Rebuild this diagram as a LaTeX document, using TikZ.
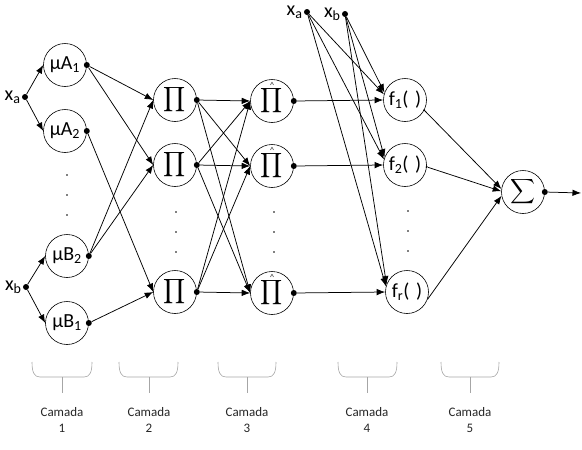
\documentclass[tikz,border=0pt]{standalone}
\usepackage{fontspec}
\setmainfont{Carlito}
\usepackage{amsmath}
\usetikzlibrary{arrows.meta,positioning}
\newcommand{\lblfont}{\fontsize{20}{22}\selectfont}
\newcommand{\capfont}{\fontsize{13}{16.5}\selectfont}
\newcommand{\bigsym}{\fontsize{16}{19}\selectfont}
\tikzset{
  neuron/.style={circle, draw, line width=0.6pt, minimum size=43pt, inner sep=0pt, font=\lblfont},
  conn/.style={line width=0.75pt, -{Latex[length=8.5pt,width=6.5pt]}},
  bigdot/.style={circle, fill, inner sep=0pt, minimum size=6pt},
  tinydot/.style={circle, fill, inner sep=0pt, minimum size=2.2pt},
  vdot/.style={circle, fill, inner sep=0pt, minimum size=1.8pt},
  inlabel/.style={font=\lblfont, inner sep=1pt},
  hatmark/.style={font=\fontsize{9}{9}\selectfont, inner sep=0pt, text=black!80},
  bracket/.style={draw=black!35, line width=0.6pt},
  caption/.style={font=\capfont, align=center, text=black!85}
}
\begin{document}
\begin{tikzpicture}[x=1pt,y=-1pt]
\useasboundingbox (0,0) rectangle (582,450);

% layer 1
\node[neuron] (A1) at (65,65) {µA\textsubscript{1}};
\node[neuron] (A2) at (65,131) {µA\textsubscript{2}};
\node[neuron] (B2) at (67,256) {µB\textsubscript{2}};
\node[neuron] (B1) at (67,323) {µB\textsubscript{1}};
\node[vdot] (d11) at (67,175) {};
\node[vdot] (d12) at (67,195) {};
\node[vdot] (d13) at (67,215) {};

% inputs
\node[bigdot] (xa) at (25,97) {};
\node[inlabel, left=0pt of xa] (xal) {x\textsubscript{a}};
\node[bigdot] (xb) at (26,287) {};
\node[inlabel, left=0pt of xb] (xbl) {x\textsubscript{b}};

% layer 2
\node[neuron] (P1) at (175,100) {\bigsym$\displaystyle\prod$};
\node[neuron] (P2) at (175,165) {\bigsym$\displaystyle\prod$};
\node[neuron] (P3) at (175,292) {\bigsym$\displaystyle\prod$};
\node[vdot] (d21) at (176,212) {};
\node[vdot] (d22) at (176,232) {};
\node[vdot] (d23) at (176,252) {};

% layer 3
\node[neuron] (H1) at (272,101) {\bigsym$\displaystyle\prod$};
\node[neuron] (H2) at (272,166) {\bigsym$\displaystyle\prod$};
\node[neuron] (H3) at (272,293) {\bigsym$\displaystyle\prod$};
\foreach \h in {H1,H2,H3}
  \node[hatmark] (\h hat) at ([yshift=15.5pt]\h.center) {\^{}};
\node[vdot] (d31) at (274,212) {};
\node[vdot] (d32) at (274,232) {};
\node[vdot] (d33) at (274,252) {};

% layer 4
\node[neuron] (F1) at (405,100) {f\textsubscript{1}(\,\,)};
\node[neuron] (F2) at (405,165) {f\textsubscript{2}(\,\,)};
\node[neuron] (Fr) at (407,292) {f\textsubscript{r}(\,\,)};
\node[vdot] (d41) at (408,211) {};
\node[vdot] (d42) at (408,231) {};
\node[vdot] (d43) at (408,251) {};
\node[bigdot] (xa2) at (307,12) {};
\node[inlabel, left=0pt of xa2] (xa2l) {x\textsubscript{a}};
\node[bigdot] (xb2) at (345,14) {};
\node[inlabel, left=0pt of xb2] (xb2l) {x\textsubscript{b}};

% layer 5
\node[neuron] (S) at (523,192) {\bigsym$\displaystyle\sum$};
\coordinate (out) at (581,193);

% output dots
\foreach \n in {A1,A2,B2,B1,P1,P2,P3,H1,H2,H3,S}
  \node[bigdot] (\n d) at (\n.east) {};
\node[tinydot] (F1d) at (F1.-28) {};
\node[tinydot] (F2d) at (F2.-5) {};

% layer 0 -> 1
\draw[conn] (xa) -- (A1.west);
\draw[conn] (xa) -- (A2.west);
\draw[conn] (xb) -- (B2.west);
\draw[conn] (xb) -- (B1.west);

% layer 1 -> 2
\draw[conn] (A1d) -- (P1.west);
\draw[conn] (A1d) -- (P2.west);
\draw[conn] (A2d) -- (P3.west);
\draw[conn] (B2d) -- (P1.west);
\draw[conn] (B2d) -- (P2.west);
\draw[conn] (B1d) -- (P3.west);

% layer 2 -> 3
\foreach \a in {P1,P2,P3}
  \foreach \b in {H1,H2,H3}
    \draw[conn] (\a d) -- (\b.west);

% layer 3 -> 4
\draw[conn] (H1d) -- (F1.west);
\draw[conn] (H2d) -- (F2.west);
\draw[conn] (H3d) -- (Fr.west);
\foreach \b in {F1,F2,Fr}{
  \draw[conn] (xa2) -- (\b.165);
  \draw[conn] (xb2) -- (\b.160);
}

% layer 4 -> 5
\draw[conn] (F1d) -- (S.172);
\draw[conn] (F2d) -- (S.178);
\draw[conn] (Fr.-20) -- (S.190);
\draw[conn] (Sd) -- (out);

% brackets
\foreach \l/\r/\c/\nm/\t in {32/92/62/c1/1, 119/178/149/c2/2, 218/276/247/c3/3, 338/397/367/c4/4, 441/499/470/c5/5}{
  \draw[bracket] (\l,362) .. controls (\l,372) and (\l+2,377) .. (\l+8,377) -- (\r-8,377) .. controls (\r-2,377) and (\r,372) .. (\r,362);
  \draw[bracket] (\c,377) -- (\c,393);
  \node[caption] (\nm) at (\c,420) {Camada\\\t};
}
\end{tikzpicture}
\end{document}
